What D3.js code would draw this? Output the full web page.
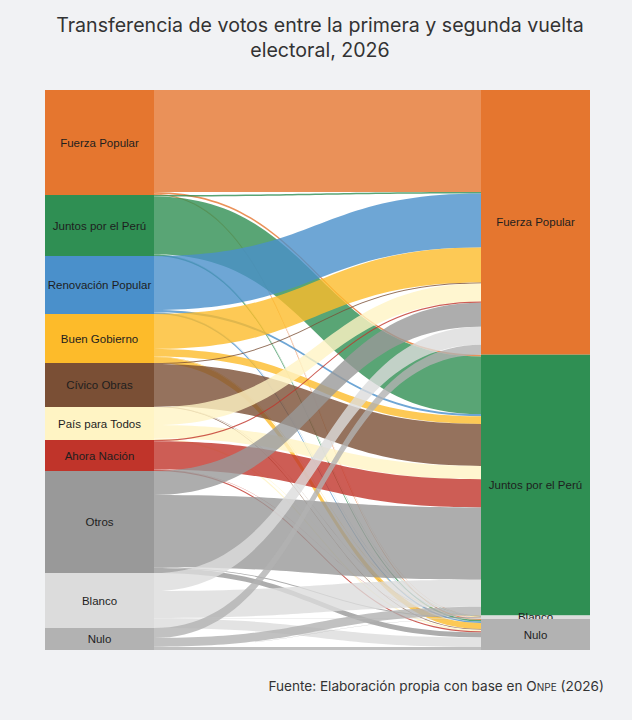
<!DOCTYPE html>
<html>
<head>
<meta charset="utf-8">
<script src="https://cdn.jsdelivr.net/npm/d3@7"></script>
<style>
  html, body { margin: 0; padding: 0; background: #f1f2f4; }
  svg { display: block; }
</style>
</head>
<body>
<svg id="chart" width="632" height="720"></svg>
<script>
// first round (left column) and second round (right column)
const sourceParties = [
  'Fuerza Popular', 'Juntos por el Perú', 'Renovación Popular', 'Buen Gobierno',
  'Cívico Obras', 'País para Todos', 'Ahora Nación', 'Otros', 'Blanco', 'Nulo'
];
const targetParties = ['Fuerza Popular', 'Juntos por el Perú', 'Blanco', 'Nulo'];

// votes sent from each first-round option (same order as sourceParties)
const toFuerzaPopular = [102, 1.5, 54, 35, 1, 18, 1.2, 24, 18, 10];
const toJuntosPorElPeru = [1.7, 57.7, 2.2, 7.6, 42.1, 13.2, 28.3, 72.2, 27, 8.8];
const toBlanco = [0.3, 0.3, 0.3, 0.4, 0.2, 0.3, 0.2, 0.8, 0.5, 0.2];
const toNulo = [1, 1.5, 1.5, 6, 0.7, 1.5, 1.3, 5, 9.5, 3];

const partyColors = {
  'Fuerza Popular': '#e5762f',
  'Juntos por el Perú': '#2f8f53',
  'Renovación Popular': '#4a90cb',
  'Buen Gobierno': '#fdbb2a',
  'Cívico Obras': '#7a4f35',
  'País para Todos': '#fff4c4',
  'Ahora Nación': '#c0342a',
  'Otros': '#999999',
  'Blanco': '#dcdcdc',
  'Nulo': '#b2b2b2'
};

const svg = d3.select('#chart');
const plot = { left: 45, right: 590, top: 90, bottom: 650 };

const flows = [toFuerzaPopular, toJuntosPorElPeru, toBlanco, toNulo];
const links = [];
sourceParties.forEach((s, i) => {
  targetParties.forEach((t, j) => {
    links.push({ source: i, target: j, value: flows[j][i] });
  });
});

const total = d3.sum(links, d => d.value);
const y = d3.scaleLinear().domain([0, total]).range([plot.top, plot.bottom]);
const x = d3.scaleBand()
  .domain(['primera', 'segunda'])
  .range([plot.left, plot.right])
  .paddingInner(0.75);
const nodeW = x.bandwidth();

// stack the nodes, no padding between them
function stackNodes(names, valueOf, column) {
  let acc = 0;
  return names.map((name, k) => {
    const v = valueOf(k);
    const node = { name, column, value: v, y0: y(acc), y1: y(acc + v) };
    acc += v;
    return node;
  });
}
const leftNodes = stackNodes(sourceParties,
  i => d3.sum(links.filter(l => l.source === i), l => l.value), 'primera');
const rightNodes = stackNodes(targetParties,
  j => d3.sum(links.filter(l => l.target === j), l => l.value), 'segunda');

// link offsets: at the source ordered by target, at the target ordered by source
const h = v => y(v) - y(0);
leftNodes.forEach((n, i) => {
  let off = n.y0;
  links.filter(l => l.source === i).forEach(l => { l.sy = off; off += h(l.value); });
});
rightNodes.forEach((n, j) => {
  let off = n.y0;
  links.filter(l => l.target === j).forEach(l => { l.ty = off; off += h(l.value); });
});

function bandPath(d) {
  const x0 = x('primera') + nodeW;
  const x1 = x('segunda');
  const xm = (x0 + x1) / 2;
  const w = h(d.value);
  return `M${x0},${d.sy}C${xm},${d.sy} ${xm},${d.ty} ${x1},${d.ty}` +
    `L${x1},${d.ty + w}C${xm},${d.ty + w} ${xm},${d.sy + w} ${x0},${d.sy + w}Z`;
}

svg.append('rect')
  .attr('x', plot.left)
  .attr('y', plot.top)
  .attr('width', plot.right - plot.left)
  .attr('height', plot.bottom - plot.top)
  .attr('fill', '#ffffff');

svg.append('g')
  .attr('class', 'links')
  .selectAll('path')
  .data(links)
  .join('path')
  .attr('d', bandPath)
  .attr('fill', d => partyColors[sourceParties[d.source]])
  .attr('fill-opacity', 0.8);

const nodes = leftNodes.concat(rightNodes);
const nodeG = svg.append('g')
  .attr('class', 'nodes')
  .selectAll('g')
  .data(nodes)
  .join('g');

nodeG.append('rect')
  .attr('x', d => x(d.column))
  .attr('y', d => d.y0)
  .attr('width', nodeW)
  .attr('height', d => d.y1 - d.y0)
  .attr('fill', d => partyColors[d.name]);

nodeG.append('text')
  .attr('x', d => x(d.column) + nodeW / 2)
  .attr('y', d => (d.y0 + d.y1) / 2)
  .attr('dy', '0.35em')
  .attr('text-anchor', 'middle')
  .attr('font-family', '"Liberation Sans", Arial, sans-serif')
  .attr('font-size', 11.5)
  .attr('fill', '#1e1e1e')
  .text(d => d.name);

// title
const title = svg.append('text')
  .attr('text-anchor', 'middle')
  .attr('font-family', 'Inter, "Open Sans", sans-serif')
  .attr('font-size', 19.6)
  .attr('fill', '#333');
title.append('tspan').attr('x', 320).attr('y', 32)
  .text('Transferencia de votos entre la primera y segunda vuelta');
title.append('tspan').attr('x', 320).attr('y', 57)
  .text('electoral, 2026');

// source note
const note = svg.append('text')
  .attr('x', 604)
  .attr('y', 691)
  .attr('text-anchor', 'end')
  .attr('font-family', 'Inter, "Open Sans", sans-serif')
  .attr('font-size', 13.6)
  .attr('fill', '#333');
note.append('tspan').text('Fuente: Elaboración propia con base en O');
note.append('tspan').attr('font-size', 10).text('NPE');
note.append('tspan').text(' (2026)');
</script>
</body>
</html>
